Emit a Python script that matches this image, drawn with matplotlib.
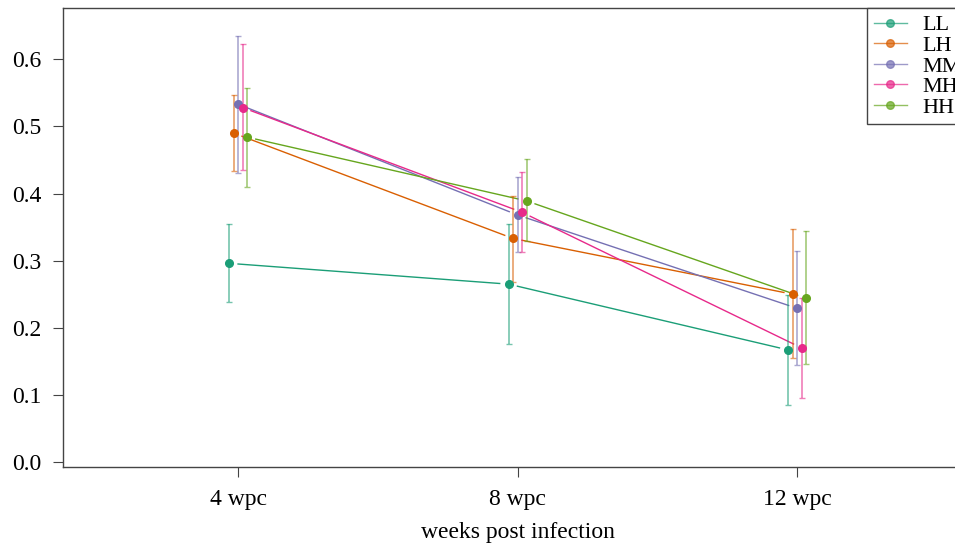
import matplotlib
matplotlib.use("Agg")
import matplotlib.pyplot as plt
import numpy as np

plt.rcParams['font.family'] = ['Liberation Serif', 'DejaVu Serif']

weeks = ["4 wpc", "8 wpc", "12 wpc"]
groups = ["LL", "LH", "MM", "MH", "HH"]
colors = ["#1B9E77", "#D95F02", "#7570B3", "#E7298A", "#66A61E"]

# means and error bar ends, one row per group, one column per time point
means = np.array([
    [0.296, 0.265, 0.167],
    [0.490, 0.333, 0.250],
    [0.533, 0.368, 0.229],
    [0.528, 0.372, 0.170],
    [0.484, 0.389, 0.244],
])
upper = np.array([
    [0.354, 0.354, 0.249],
    [0.546, 0.397, 0.347],
    [0.634, 0.424, 0.314],
    [0.622, 0.432, 0.244],
    [0.557, 0.451, 0.344],
])
lower = np.array([
    [0.238, 0.176, 0.085],
    [0.433, 0.268, 0.155],
    [0.431, 0.313, 0.144],
    [0.435, 0.313, 0.095],
    [0.409, 0.329, 0.146],
])

dodge = 0.016
x = np.arange(1, len(weeks) + 1)

fig = plt.figure(figsize=(9.55, 5.45), dpi=100)
ax = fig.add_axes([0.066, 0.143, 0.952, 0.842])
ax.set_xlim(0.374, 3.626)
ax.set_ylim(-0.0074, 0.676)
for s in ax.spines.values():
    s.set_color('#444444')
    s.set_linewidth(1)

gap = 9  # pixels left blank around each point (type = "b")
handles = []
for i, g in enumerate(groups):
    xs = x + (i - 2) * dodge
    ys = means[i]
    col = colors[i]
    # connecting lines with gaps near the points
    pts = ax.transData.transform(np.column_stack([xs, ys]))
    for k in range(len(xs) - 1):
        p0, p1 = pts[k], pts[k + 1]
        d = p1 - p0
        L = np.hypot(*d)
        q0 = p0 + d * gap / L
        q1 = p1 - d * gap / L
        seg = ax.transData.inverted().transform(np.vstack([q0, q1]))
        ax.plot(seg[:, 0], seg[:, 1], color=col, lw=1, zorder=2)
    ax.errorbar(xs, ys, yerr=[ys - lower[i], upper[i] - ys], fmt='none',
                ecolor=col, alpha=0.6, elinewidth=1.2, capsize=2.5,
                capthick=1, zorder=3)
    ax.plot(xs, ys, 'o', color=col, ms=5.5, zorder=4)
    h, = ax.plot([], [], '-o', color=col, lw=1, ms=5.5, label=g)
    handles.append(h)

ax.set_xticks(x)
ax.set_xticklabels(weeks)
ax.set_yticks(np.arange(0, 0.61, 0.1))
ax.set_yticklabels([f"{v:.1f}" for v in np.arange(0, 0.61, 0.1)])
ax.tick_params(direction='out', length=7.5, labelsize=17, pad=8,
               color='#444444')
ax.set_xlabel("weeks post infection", fontsize=17, labelpad=9)

leg = fig.legend(handles=handles, loc='upper left',
                 bbox_to_anchor=(0.908, 0.985), fontsize=16,
                 frameon=True, fancybox=False, edgecolor='#444444',
                 framealpha=1, borderaxespad=0, labelspacing=0.0,
                 handlelength=1.5, handletextpad=0.7, borderpad=0.3)
leg.get_frame().set_linewidth(1)
for l in leg.get_lines():
    l.set_alpha(0.7)

fig.savefig("out.png", dpi=100)
